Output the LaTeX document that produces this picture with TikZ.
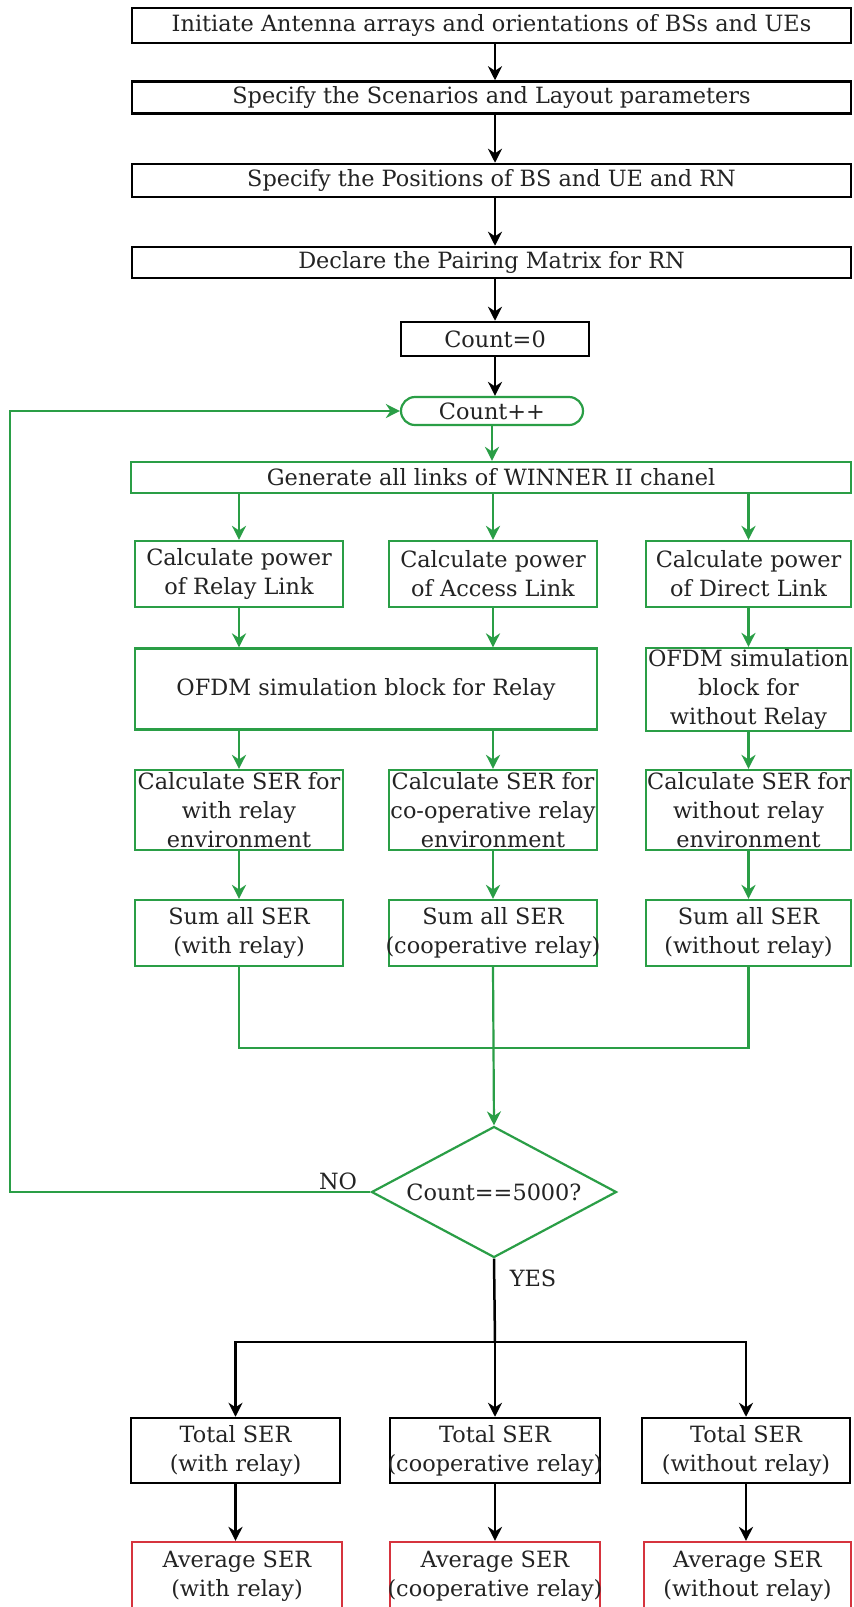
\documentclass[tikz,border=0pt]{standalone}
\usepackage{fontspec}
\setmainfont{DejaVu Serif}
\usetikzlibrary{arrows.meta,shapes.geometric}
\definecolor{gcol}{RGB}{42,158,70}
\definecolor{rcol}{RGB}{214,52,62}
\definecolor{tcol}{RGB}{35,35,35}
\newcommand{\zwbox}[1]{\makebox[0pt]{#1}}
\begin{document}
\begin{tikzpicture}[x=0.5pt,y=-0.5pt,
  txt/.style={font=\fontsize{11.2pt}{14.5pt}\selectfont, text=tcol, align=center, inner sep=0pt},
  bbox/.style={txt, draw=black, line width=1.25pt, fill=white},
  gbox/.style={txt, draw=gcol, line width=1.1pt, fill=white},
  rbox/.style={txt, draw=rcol, line width=1.1pt, fill=white},
  barr/.style={draw=black, line width=1.25pt, -{Stealth[length=7pt,width=7pt]}},
  bline/.style={draw=black, line width=1.25pt},
  garr/.style={draw=gcol, line width=1.1pt, -{Stealth[length=7pt,width=7pt]}},
  gline/.style={draw=gcol, line width=1.1pt},
]
\useasboundingbox (0,0) rectangle (853,1607);
\clip (0,0) rectangle (853,1607);
\fill[white] (0,0) rectangle (853,1607);

% top black column
\node[bbox, minimum width=359.5pt, minimum height=17.5pt] (b1) at (491.5,25.5) {Initiate Antenna arrays and orientations of BSs and UEs};
\node[bbox, minimum width=359.5pt, minimum height=16pt] (b2) at (491.5,97.5) {Specify the Scenarios and Layout parameters};
\node[bbox, minimum width=359.5pt, minimum height=16.5pt] (b3) at (491.5,180.5) {Specify the Positions of BS and UE and RN};
\node[bbox, minimum width=359.5pt, minimum height=15.5pt] (b4) at (491.5,262.5) {Declare the Pairing Matrix for RN};
\node[bbox, minimum width=94pt, minimum height=17pt] (c0) at (495,339) {Count=0};
\node[gbox, rounded corners=7pt, minimum width=91pt, minimum height=14pt] (cpp) at (492,411) {Count++};

% green part
\node[gbox, minimum width=360pt, minimum height=15.5pt] (gen) at (491,477.5) {Generate all links of WINNER II chanel};
\node[gbox, minimum width=104pt, minimum height=33pt] (p1) at (239,574) {Calculate power\\of Relay Link};
\node[gbox, minimum width=104pt, minimum height=33pt] (p2) at (493,574) {Calculate power\\of Access Link};
\node[gbox, minimum width=102.5pt, minimum height=33pt] (p3) at (748.5,574) {Calculate power\\of Direct Link};
\node[gbox, minimum width=231pt, minimum height=40.5pt] (o1) at (366,689) {OFDM simulation block for Relay};
\node[gbox, minimum width=102.5pt, minimum height=41.5pt] (o2) at (748.5,689.5) {\zwbox{OFDM simulation}\\block for\\without Relay};
\node[gbox, minimum width=104pt, minimum height=40pt] (s1) at (239,810) {\zwbox{Calculate SER for}\\with relay\\environment};
\node[gbox, minimum width=104pt, minimum height=40pt] (s2) at (493,810) {\zwbox{Calculate SER for}\\\zwbox{co-operative relay}\\environment};
\node[gbox, minimum width=102.5pt, minimum height=40pt] (s3) at (748.5,810) {\zwbox{Calculate SER for}\\without relay\\environment};
\node[gbox, minimum width=104pt, minimum height=33pt] (m1) at (239,933) {Sum all SER\\(with relay)};
\node[gbox, minimum width=104pt, minimum height=33pt] (m2) at (493,933) {Sum all SER\\\zwbox{(cooperative relay)}};
\node[gbox, minimum width=102.5pt, minimum height=33pt] (m3) at (748.5,933) {Sum all SER\\(without relay)};
\node[gbox, diamond, aspect=1.87, minimum width=122.5pt, minimum height=65.5pt] (dia) at (494,1192) {Count==5000?};
\node[txt] (no) at (338,1181) {NO};
\node[txt] (yes) at (533,1278) {YES};

% bottom
\node[bbox, minimum width=104.5pt, minimum height=32.5pt] (t1) at (235.5,1450.5) {Total SER\\(with relay)};
\node[bbox, minimum width=105pt, minimum height=32.5pt] (t2) at (495,1450.5) {Total SER\\\zwbox{(cooperative relay)}};
\node[bbox, minimum width=104pt, minimum height=32.5pt] (t3) at (746,1450.5) {Total SER\\(without relay)};
\node[rbox, minimum width=105pt, minimum height=34pt] (a1) at (237,1576) {Average SER\\(with relay)};
\node[rbox, minimum width=105pt, minimum height=34pt] (a2) at (495,1576) {Average SER\\\zwbox{(cooperative relay)}};
\node[rbox, minimum width=103.5pt, minimum height=34pt] (a3) at (747.5,1576) {Average SER\\(without relay)};

\coordinate (mrg) at (493,1048);
\coordinate (lp) at (10,0);
\coordinate (sp) at (495,1342);

% connectors
\draw[barr] (b1.south -| c0) -- (b2.north -| c0);
\draw[barr] (b2.south -| c0) -- (b3.north -| c0);
\draw[barr] (b3.south -| c0) -- (b4.north -| c0);
\draw[barr] (b4.south -| c0) -- (c0.north);
\draw[barr] (c0.south) -- (c0.south |- cpp.north);
\draw[garr] (cpp.south) -- (cpp.south |- gen.north);
\draw[garr] (gen.south -| p1) -- (p1.north);
\draw[garr] (gen.south -| p2) -- (p2.north);
\draw[garr] (gen.south -| p3) -- (p3.north);
\draw[garr] (p1.south) -- (p1.south |- o1.north);
\draw[garr] (p2.south) -- (p2.south |- o1.north);
\draw[garr] (p3.south) -- (o2.north);
\draw[garr] (o1.south -| s1) -- (s1.north);
\draw[garr] (o1.south -| s2) -- (s2.north);
\draw[garr] (o2.south) -- (s3.north);
\draw[garr] (s1.south) -- (m1.north);
\draw[garr] (s2.south) -- (m2.north);
\draw[garr] (s3.south) -- (m3.north);
\draw[gline] (m1.south) |- (mrg) -| (m3.south);
\draw[garr] (m2.south) -- (dia.north);
\draw[garr] (dia.west) -- (dia.west -| lp) |- (cpp.west);
\draw[bline] (dia.south) -- (sp);
\draw[barr] (sp) -| (t1.north);
\draw[barr] (sp) -| (t3.north);
\draw[barr] (sp) -- (t2.north);
\draw[barr] (t1.south) -- (t1.south |- a1.north);
\draw[barr] (t2.south) -- (a2.north);
\draw[barr] (t3.south) -- (t3.south |- a3.north);
\end{tikzpicture}
\end{document}
